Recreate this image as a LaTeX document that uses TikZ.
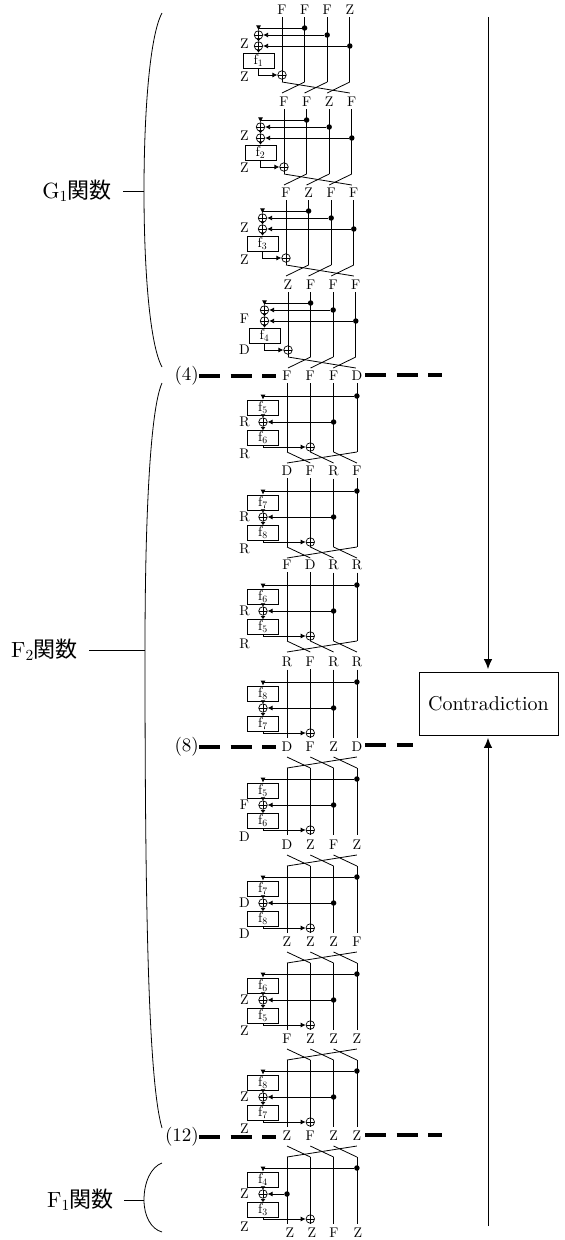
\documentclass[tikz,border=0pt]{standalone}
\usepackage{fontspec}
\setmainfont{lmroman10-regular.otf}
\newfontfamily\cjk{Noto Sans CJK JP}
\usetikzlibrary{arrows.meta, calc}
\tikzset{
  lab/.style={font=\fontsize{14}{16}\selectfont, inner sep=2.5pt},
  biglab/.style={font=\fontsize{22}{26}\selectfont, inner sep=0pt, anchor=east},
  cutlab/.style={font=\fontsize{19}{23}\selectfont, inner sep=0pt, anchor=east},
  fbox/.style={draw, line width=0.8pt, minimum width=31pt, minimum height=15pt, inner sep=0pt, font=\fontsize{14}{16}\selectfont},
  dotmark/.style={circle, fill=black, inner sep=0pt, minimum size=5.5pt},
  xorgate/.style={circle, draw, line width=0.7pt, inner sep=0pt, minimum size=8.5pt, path picture={
      \draw[line width=0.6pt] (path picture bounding box.north) -- (path picture bounding box.south)
        (path picture bounding box.west) -- (path picture bounding box.east);}},
  wire/.style={line width=0.8pt},
  flow/.style={line width=0.8pt, -{Latex[length=5pt,width=5pt]}},
  tinyflow/.style={line width=0.8pt, -{Latex[length=3pt,width=5pt]}},
  cutline/.style={line width=3.2pt, dash pattern=on 21pt off 10.5pt},
  bigarrow/.style={line width=0.9pt, -{Latex[length=10pt,width=8.5pt]}, shorten >=2.5pt}
}

\begin{document}
\begin{tikzpicture}[x=1pt, y=-1pt]
  % Parameters
  \def\colGap{22.6}
  \def\colGapF{23.3}
  \useasboundingbox (0,0) rectangle (565,1240);

  % G1 rounds
  \foreach \id/\xa/\yt/\labA/\labB/\labC/\labD in {1/282/10/F/F/F/Z, 2/284/102/F/F/Z/F, 3/286/193/F/Z/F/F, 4/288/285/Z/F/F/F} {
    \pgfmathsetmacro\xb{\xa+\colGap}
    \pgfmathsetmacro\xc{\xa+2*\colGap}
    \pgfmathsetmacro\xd{\xa+3*\colGap}
    \pgfmathsetmacro\xg{\xa-23.5}
    \node[lab] (t\id a) at (\xa,\yt) {\labA};
    \node[lab] (t\id b) at (\xb,\yt) {\labB};
    \node[lab] (t\id c) at (\xc,\yt) {\labC};
    \node[lab] (t\id d) at (\xd,\yt) {\labD};
    % end of the straight part, end of the crossing
    \coordinate (s\id a) at (\xa,\yt+72);
    \coordinate (s\id b) at (\xb,\yt+72);
    \coordinate (s\id c) at (\xc,\yt+72);
    \coordinate (s\id d) at (\xd,\yt+72);
    \coordinate (e\id a) at (\xa,\yt+83);
    \coordinate (e\id b) at (\xb,\yt+83);
    \coordinate (e\id c) at (\xc,\yt+83);
    \coordinate (e\id d) at (\xd,\yt+83);
    \foreach \k in {a,b,c,d} {
      \draw[wire] (t\id\k) -- (s\id\k);
    }
    \draw[wire] (s\id a) -- (e\id d);
    \draw[wire] (s\id b) -- (e\id a);
    \draw[wire] (s\id c) -- (e\id b);
    \draw[wire] (s\id d) -- (e\id c);
    \node[dotmark] (d\id b) at (\xb,\yt+18) {};
    \node[dotmark] (d\id c) at (\xc,\yt+25) {};
    \node[dotmark] (d\id d) at (\xd,\yt+36) {};
    \node[xorgate] (x\id a) at (\xg,\yt+25) {};
    \node[xorgate] (x\id b) at (\xg,\yt+36) {};
    \node[fbox] (f\id a) at (\xg,\yt+50.5) {f\textsubscript{\id}};
    \node[xorgate] (x\id e) at (\xa,\yt+65) {};
    \draw[flow] (d\id b) -| (x\id a);
    \draw[flow] (d\id c) -- (x\id a);
    \draw[flow] (d\id d) -- (x\id b);
    \draw[tinyflow] (x\id a) -- (x\id b);
    \draw[tinyflow] (x\id b) -- (f\id a);
    \draw[flow] (f\id a) |- (x\id e);
  }

  % F2 and F1 rounds, kind 1 crosses below, kind 2 crosses above, kind 0 has no crossing
  \foreach \id/\kind/\yd/\labA/\labB/\labC/\labD/\fnA/\fnB/\tap in {
      5/1/396/F/F/F/D/5/6/c, 6/1/491/D/F/R/F/7/8/c, 7/1/585/F/D/R/R/6/5/c, 8/0/682/R/F/R/R/8/7/c,
      9/2/779/D/F/Z/D/5/6/c, 10/2/877/D/Z/F/Z/7/8/c, 11/2/974/Z/Z/Z/F/6/5/c, 12/2/1071/F/Z/Z/Z/8/7/c,
      13/2/1168/Z/F/Z/Z/4/3/a} {
    \pgfmathsetmacro\xa{287}
    \pgfmathsetmacro\xb{\xa+\colGapF}
    \pgfmathsetmacro\xc{\xa+2*\colGapF}
    \pgfmathsetmacro\xd{\xa+3*\colGapF}
    \pgfmathsetmacro\xg{263}
    \ifnum\kind=2 \pgfmathsetmacro\yt{\yd-32} \else \pgfmathsetmacro\yt{\yd-20} \fi
    \node[lab] (t\id a) at (\xa,\yt) {\labA};
    \node[lab] (t\id b) at (\xb,\yt) {\labB};
    \node[lab] (t\id c) at (\xc,\yt) {\labC};
    \node[lab] (t\id d) at (\xd,\yt) {\labD};
    \coordinate (g\id a) at (\xa,\yd-22);
    \coordinate (g\id b) at (\xb,\yd-22);
    \coordinate (g\id c) at (\xc,\yd-22);
    \coordinate (g\id d) at (\xd,\yd-22);
    \coordinate (b\id a) at (\xa,\yd-11);
    \coordinate (b\id b) at (\xb,\yd-11);
    \coordinate (b\id c) at (\xc,\yd-11);
    \coordinate (b\id d) at (\xd,\yd-11);
    \coordinate (s\id a) at (\xa,\yd+56);
    \coordinate (s\id b) at (\xb,\yd+56);
    \coordinate (s\id c) at (\xc,\yd+56);
    \coordinate (s\id d) at (\xd,\yd+56);
    \coordinate (e\id a) at (\xa,\yd+67);
    \coordinate (e\id b) at (\xb,\yd+67);
    \coordinate (e\id c) at (\xc,\yd+67);
    \coordinate (e\id d) at (\xd,\yd+67);
    \foreach \k in {a,b,c,d} {
      \draw[wire] (b\id\k) -- (s\id\k);
      \ifnum\kind=2 \else \draw[wire] (t\id\k) -- (b\id\k); \fi
    }
    \ifnum\kind=1
      \draw[wire] (s\id a) -- (e\id b);
      \draw[wire] (s\id b) -- (e\id c);
      \draw[wire] (s\id c) -- (e\id d);
      \draw[wire] (s\id d) -- (e\id a);
    \fi
    \ifnum\kind=2
      \draw[wire] (g\id a) -- (b\id b);
      \draw[wire] (g\id b) -- (b\id c);
      \draw[wire] (g\id c) -- (b\id d);
      \draw[wire] (g\id d) -- (b\id a);
    \fi
    \node[dotmark] (d\id d) at (\xd,\yd) {};
    \node[fbox] (f\id a) at (\xg,\yd+11.5) {f\textsubscript{\fnA}};
    \node[xorgate] (x\id a) at (\xg,\yd+26) {};
    \node[fbox] (f\id b) at (\xg,\yd+42) {f\textsubscript{\fnB}};
    \node[xorgate] (x\id e) at (\xb,\yd+51) {};
    \coordinate (c\id a) at (\xa,\yd+26);
    \coordinate (c\id c) at (\xc,\yd+26);
    \node[dotmark] (d\id t) at (c\id\tap) {};
    \draw[flow] (d\id d) -| (f\id a);
    \draw[tinyflow] (f\id a) -- (x\id a);
    \draw[tinyflow] (x\id a) -- (f\id b);
    \draw[flow] (d\id t) -- (x\id a);
    \draw[flow] (f\id b) |- (x\id e);
  }

  % Last labels
  \node[lab] (t14a) at (290,1233) {Z};
  \node[lab] (t14b) at (312,1233) {Z};
  \node[lab] (t14c) at (334,1233) {F};
  \node[lab] (t14d) at (358,1233) {Z};

  % Labels left of the rounds
  \foreach \yy/\txt in {44/Z, 77/Z, 136/Z, 168/Z, 228/Z, 260/Z, 319/F, 350/D,
      422/R, 454/R, 517/R, 549/R, 611/R, 644/R,
      805/F, 837/D, 903/D, 934/D, 1000/Z, 1031/Z, 1097/Z, 1129/Z, 1194/Z, 1227/Z} {
    \node[lab] (l\yy) at (244.5,\yy) {\txt};
  }

  % Cuts
  \foreach \m/\yl/\yr/\xend in {4/376/375/442, 8/747/745/413, 12/1137/1135/442} {
    \node[cutlab] (m\m) at (199,\yl) {(\m)};
    \coordinate (cl\m) at (276,\yl);
    \coordinate (crs\m) at (365,\yr);
    \coordinate (cre\m) at (\xend,\yr);
    \draw[cutline] (m\m.east) -- (cl\m);
    \draw[cutline] (crs\m) -- (cre\m);
  }

  % Braces
  \coordinate (brG) at (144,191);
  \coordinate (brFa) at (145,650);
  \coordinate (brFb) at (144,1200);
  \draw[wire] (162,13) .. controls (150,35) and (144,110) .. (brG) .. controls (144,272) and (150,345) .. (162,367);
  \draw[wire] (162,383) .. controls (150,410) and (145,520) .. (brFa) .. controls (145,900) and (148,1080) .. (162,1128);
  \draw[wire] (162,1163) .. controls (151,1167) and (144,1182) .. (brFb) .. controls (144,1216) and (151,1229) .. (162,1232);
  \node[biglab] (labG) at (112,191) {G\textsubscript{1}{\cjk 関数}};
  \node[biglab] (labFa) at (78,650) {F\textsubscript{2}{\cjk 関数}};
  \node[biglab] (labFb) at (114,1200) {F\textsubscript{1}{\cjk 関数}};
  \draw[wire, shorten <=11pt] (labG) -- (brG);
  \draw[wire, shorten <=11pt] (labFa) -- (brFa);
  \draw[wire, shorten <=10pt] (labFb) -- (brFb);

  % Contradiction
  \node[draw, line width=0.8pt, minimum width=139pt, minimum height=63pt, inner sep=0pt, font=\fontsize{20}{24}\selectfont] (contra) at (488.5,703.5) {Contradiction};
  \coordinate (arrTop) at (488,17);
  \coordinate (arrBot) at (488,1226);
  \draw[bigarrow] (arrTop) -- (arrTop |- contra.north);
  \draw[bigarrow] (arrBot) -- (arrBot |- contra.south);
\end{tikzpicture}
\end{document}
